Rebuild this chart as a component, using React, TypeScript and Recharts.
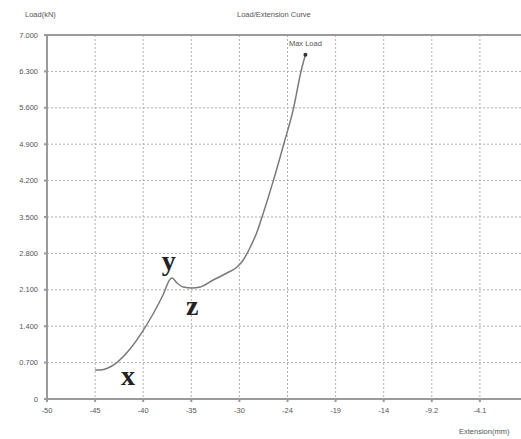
import React from "react";
import {
  CartesianGrid,
  Line,
  LineChart,
  ReferenceDot,
  ReferenceLine,
  XAxis,
  YAxis,
} from "recharts";

// extension (mm) and load (kN)
const extension = [
  -44.9, -44.3, -43.6, -42.6, -41.2, -39.9, -38.7, -37.7, -36.93, -36.75,
  -36.22, -35.55, -34.63, -33.75, -32.37, -30.91, -29.85, -29.19, -28.44, -27.73,
  -27.2, -26.0, -24.9, -23.85, -23.07, -22.6,
];
const load = [
  0.56, 0.56, 0.59, 0.7, 0.96, 1.29, 1.654, 2.0, 2.308, 2.327,
  2.231, 2.154, 2.135, 2.154, 2.288, 2.423, 2.538, 2.673, 2.923, 3.212,
  3.5, 4.2, 4.9, 5.6, 6.3, 6.62,
];

const xTicks = [-50, -44.9, -39.8, -34.7, -29.6, -24.5, -19.4, -14.3, -9.2, -4.1, 1.0];
const xTickLabels = ["-50", "-45", "-40", "-35", "-30", "-24", "-19", "-14", "-9.2", "-4.1", ""];
const yTicks = [0, 0.7, 1.4, 2.1, 2.8, 3.5, 4.2, 4.9, 5.6, 6.3, 7.0];
const yTickLabels = ["0", "0.700", "1.400", "2.100", "2.800", "3.500", "4.200", "4.900", "5.600", "6.300", "7.000"];

// hand-written markers on the curve
const marks = [
  { text: "x", ext: -41.4, load: 0.46 },
  { text: "y", ext: -37.1, load: 2.67 },
  { text: "z", ext: -34.6, load: 1.81 },
];

const data = extension.map((e, i) => ({ ext: e, load: load[i] }));
const maxIdx = load.indexOf(Math.max(...load));

const AXIS = "#9a9a9a";
const TEXT = "#555";
const small = { fontFamily: "Liberation Sans, Arial, sans-serif", fontSize: 7.5, fill: TEXT };

export default function App() {
  return (
    <div
      style={{
        position: "absolute",
        left: 0,
        top: 0,
        width: 521,
        height: 439,
        overflow: "hidden",
        background: "#fff",
        fontFamily: "Liberation Sans, Arial, sans-serif",
      }}
    >
      <div style={{ position: "absolute", left: 25, top: 10, fontSize: 7.5, color: TEXT }}>Load(kN)</div>
      <div style={{ position: "absolute", left: 237, top: 10, fontSize: 7.5, color: TEXT }}>
        Load/Extension Curve
      </div>
      <div style={{ position: "absolute", left: 459, top: 427, fontSize: 7.5, color: TEXT, whiteSpace: "nowrap" }}>
        Extension(mm)
      </div>
      <LineChart width={530} height={439} data={data} margin={{ top: 35, right: 2, bottom: 0, left: 0 }}>
        <CartesianGrid stroke="#b0b0b0" strokeDasharray="2 2" horizontalValues={yTicks} verticalValues={xTicks} />
        <XAxis
          dataKey="ext"
          type="number"
          domain={[-50, 1]}
          ticks={xTicks}
          tickFormatter={(v: number) => xTickLabels[xTicks.indexOf(v)] ?? ""}
          height={40}
          stroke={AXIS}
          strokeWidth={2}
          tickSize={3}
          tickMargin={6}
          tick={small}
          interval={0}
        />
        <YAxis
          dataKey="load"
          type="number"
          domain={[0, 7]}
          ticks={yTicks}
          tickFormatter={(v: number) => yTickLabels[yTicks.indexOf(v)] ?? ""}
          width={47}
          stroke={AXIS}
          strokeWidth={2}
          tickSize={3}
          tickMargin={6}
          tick={small}
          interval={0}
        />
        <ReferenceLine y={7} stroke={AXIS} strokeWidth={2} />
        <Line
          type="monotone"
          dataKey="load"
          stroke="#7a7a7a"
          strokeWidth={1.5}
          dot={false}
          isAnimationActive={false}
        />
        <ReferenceDot
          x={extension[maxIdx]}
          y={load[maxIdx]}
          r={2}
          fill="#333"
          stroke="none"
          label={{ value: "Max Load", position: "top", offset: 7, ...small }}
        />
        {marks.map((m) => (
          <ReferenceDot
            key={m.text}
            x={m.ext}
            y={m.load}
            r={0}
            stroke="none"
            label={{
              value: m.text,
              position: "center",
              fontFamily: "Liberation Serif, Times New Roman, serif",
              fontWeight: "bold",
              fontSize: 28,
              fill: "#222",
            }}
          />
        ))}
      </LineChart>
    </div>
  );
}
